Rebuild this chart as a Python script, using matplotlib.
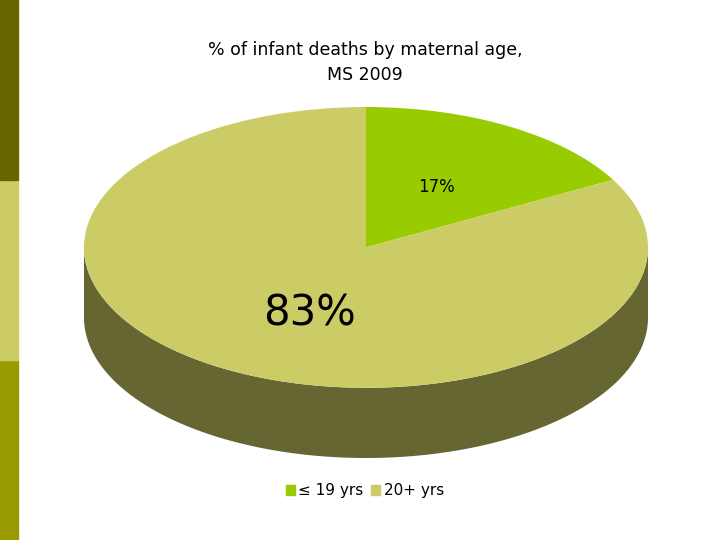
import numpy as np
import matplotlib
matplotlib.use("Agg")
import matplotlib.pyplot as plt
from matplotlib.patches import Rectangle, Polygon

categories = ["≤ 19 yrs", "20+ yrs"]
values = [17, 83]
labels = ["17%", "83%"]
colors = ["#99cc00", "#cccc66"]

fig = plt.figure(figsize=(7.2, 5.4), dpi=100)
fig.patch.set_facecolor("white")
# left decorative strip
for y0, c in [(0, "#999900"), (1/3, "#cccc66"), (2/3, "#666600")]:
    fig.add_artist(Rectangle((0, y0), 18/720, 1/3, transform=fig.transFigure, color=c))

ax = fig.add_axes([84/720, (540-458)/540, 564/720, 351/540])
depth = 0.5
t = np.linspace(np.pi, 2*np.pi, 200)
xs = np.concatenate([np.cos(t), np.cos(t[::-1])])
ys = np.concatenate([np.sin(t), np.sin(t[::-1]) - depth])
ax.add_patch(Polygon(np.column_stack([xs, ys]), closed=True, facecolor="#666633", edgecolor="none"))

wedges, _ = ax.pie(values, colors=colors, startangle=90, counterclock=False,
                   wedgeprops=dict(edgecolor="none"), radius=1)
ax.set_aspect("auto")
ax.set_xlim(-1, 1)
ax.set_ylim(-1 - depth, 1)
ax.axis("off")

ax.text(0.25, 0.43, labels[0], fontsize=12, ha="center", va="center", color="black")
ax.text(-0.2, -0.47, labels[1], fontsize=30, ha="center", va="center", color="black")

fig.text(365/720, 1 - 50/540, "% of infant deaths by maternal age,", ha="center", va="center", fontsize=12.5)
fig.text(365/720, 1 - 75/540, "MS 2009", ha="center", va="center", fontsize=12.5)

handles = [Rectangle((0, 0), 1, 1, color=c) for c in colors]
fig.legend(handles, categories, loc="center", bbox_to_anchor=(365/720, 1 - 491/540), ncol=2,
           frameon=False, fontsize=11, handlelength=0.6, handleheight=0.6, handletextpad=0.2,
           columnspacing=0.5)

fig.savefig("out.png", dpi=100)
